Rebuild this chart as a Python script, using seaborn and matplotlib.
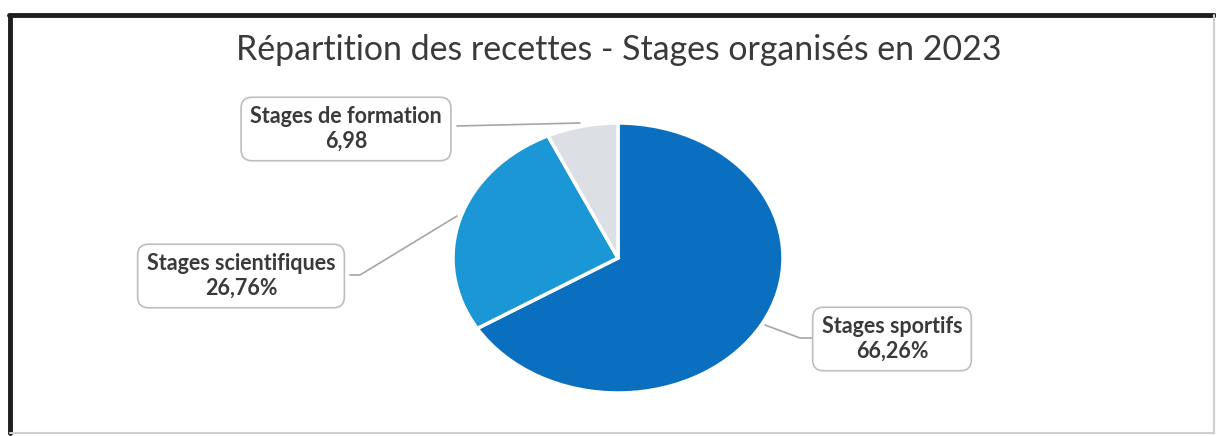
import matplotlib
matplotlib.use("Agg")
import matplotlib.pyplot as plt
import seaborn as sns
from matplotlib.lines import Line2D

categories = ["Stages sportifs", "Stages scientifiques", "Stages de formation"]
values = [66.26, 26.76, 6.98]
value_labels = ["66,26%", "26,76%", "6,98"]
colors = ["#0A6FBF", "#1B97D5", "#DCDFE4"]
title = "Répartition des recettes - Stages organisés en 2023"

sns.set_theme(style="white")
plt.rcParams["font.family"] = ["Lato", "DejaVu Sans"]

W, H = 1216, 436
fig = plt.figure(figsize=(W / 100, H / 100), dpi=100)
fig.patch.set_facecolor("white")
ax = fig.add_axes([0, 0, 1, 1])

# pixel geometry of the (elliptical) pie
cx, cy, rx, ry = 618, 258, 165, 135

def px(x, y):
    return ((x - cx) / rx, (cy - y) / ry)

ax.pie(values, colors=colors, startangle=90, counterclock=False, radius=1,
       center=(0, 0), frame=True,
       wedgeprops=dict(edgecolor="white", linewidth=2.5))
ax.set_aspect("auto")
ax.set_xlim(-cx / rx, (W - cx) / rx)
ax.set_ylim((cy - H) / ry, cy / ry)
ax.set_axis_off()

text_color = "#3A3A3A"
box = dict(boxstyle="round,pad=0.42,rounding_size=0.5", fc="white", ec="#BDBDBD", lw=1.2)

# label positions (pixel centres) and leader lines
label_pos = [(892, 339), (241, 276), (346, 129)]
leaders = [
    [(765, 325), (800, 338), (812, 338)],
    [(457, 216), (360, 275), (350, 275)],
    [(580, 123), (457, 126)],
]
for cat, lab, pos, ld in zip(categories, value_labels, label_pos, leaders):
    xs, ys = zip(*[px(x, y) for x, y in ld])
    ax.plot(xs, ys, color="#A6A6A6", lw=1.2, zorder=1)
    ax.text(*px(*pos), f"{cat}\n{lab}", ha="center", va="center",
            fontsize=15.5, fontweight="bold", color=text_color,
            linespacing=1.2, bbox=box, zorder=5)

fig.text(619 / W, 1 - 50 / H, title, ha="center", va="center",
         fontsize=24.4, color=text_color)

# frame
fig.add_artist(Line2D([9 / W, 1214 / W], [1 - 15 / H, 1 - 15 / H], color="#1E1E1E", lw=3.5))
fig.add_artist(Line2D([10 / W, 10 / W], [1 - 15 / H, 1 - 433 / H], color="#1E1E1E", lw=3.5))
fig.add_artist(Line2D([10 / W, 1214 / W], [1 - 433 / H, 1 - 433 / H], color="#CFCFCF", lw=1.5))
fig.add_artist(Line2D([1214 / W, 1214 / W], [1 - 15 / H, 1 - 433 / H], color="#CFCFCF", lw=1.5))

fig.savefig("out.png", dpi=100, facecolor="white")
